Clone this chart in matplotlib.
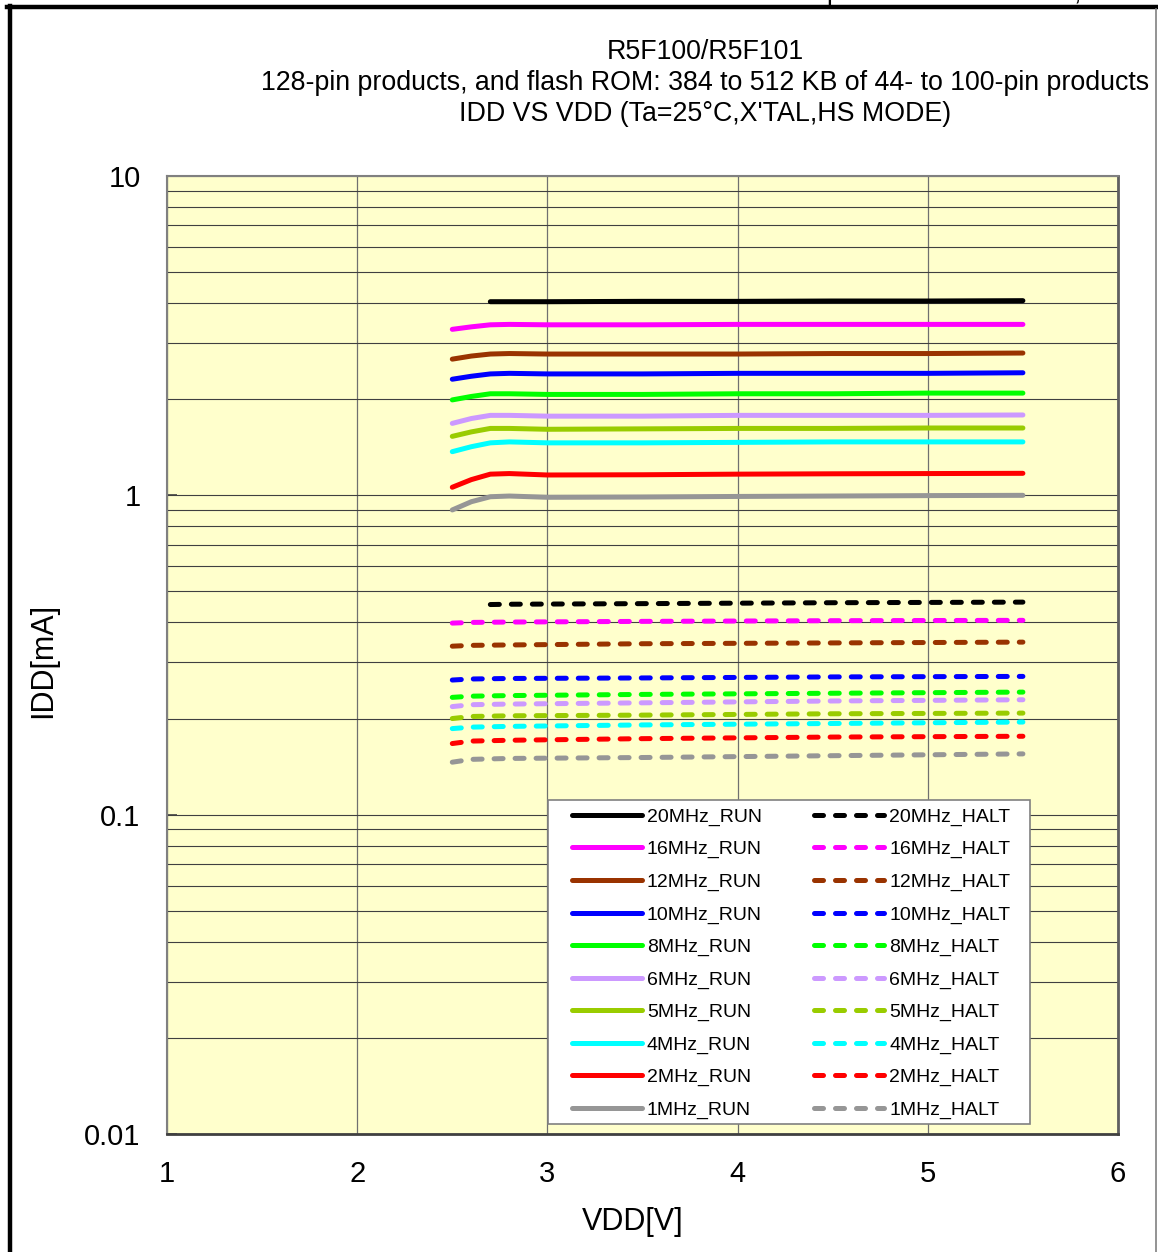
import numpy as np
import matplotlib
matplotlib.use('Agg')
import matplotlib.pyplot as plt
from matplotlib.lines import Line2D
from matplotlib.patches import Rectangle
from matplotlib.ticker import LogLocator, NullFormatter, FixedLocator, FixedFormatter

plt.rcParams['font.family'] = ['Liberation Sans', 'DejaVu Sans']

# Данні
vdd_run = [2.5, 2.6, 2.7, 2.8, 3.0, 3.5, 4.0, 4.5, 5.0, 5.5]
vdd_run_20 = [2.7, 2.8, 3.0, 3.5, 4.0, 4.5, 5.0, 5.5]
vdd_halt = [2.5, 2.6, 2.8, 3.5, 4.5, 5.5]
vdd_halt_20 = [2.7, 2.8, 3.5, 4.5, 5.5]

labels = ['20MHz', '16MHz', '12MHz', '10MHz', '8MHz', '6MHz', '5MHz', '4MHz', '2MHz', '1MHz']
colors = ['#000000', '#FF00FF', '#993300', '#0000FF', '#00FF00',
          '#CC99FF', '#99CC00', '#00FFFF', '#FF0000', '#969696']

run_20 = [4.04, 4.04, 4.04, 4.05, 4.05, 4.06, 4.06, 4.07]
run_16 = [3.31, 3.37, 3.42, 3.43, 3.42, 3.42, 3.43, 3.43, 3.43, 3.43]
run_12 = [2.67, 2.73, 2.77, 2.78, 2.77, 2.77, 2.77, 2.78, 2.78, 2.79]
run_10 = [2.31, 2.36, 2.40, 2.41, 2.40, 2.40, 2.41, 2.41, 2.41, 2.42]
run_8 = [1.99, 2.04, 2.08, 2.08, 2.07, 2.07, 2.08, 2.08, 2.09, 2.09]
run_6 = [1.68, 1.74, 1.78, 1.78, 1.77, 1.77, 1.78, 1.78, 1.78, 1.785]
run_5 = [1.53, 1.58, 1.62, 1.62, 1.61, 1.615, 1.62, 1.62, 1.625, 1.625]
run_4 = [1.37, 1.42, 1.46, 1.47, 1.46, 1.46, 1.465, 1.47, 1.47, 1.47]
run_2 = [1.06, 1.12, 1.165, 1.17, 1.158, 1.16, 1.165, 1.168, 1.17, 1.172]
run_1 = [0.90, 0.955, 0.99, 0.995, 0.986, 0.988, 0.992, 0.995, 0.998, 1.0]

halt_20 = [0.455, 0.456, 0.458, 0.461, 0.463]
halt_16 = [0.398, 0.400, 0.401, 0.403, 0.405, 0.406]
halt_12 = [0.337, 0.339, 0.340, 0.343, 0.345, 0.347]
halt_10 = [0.264, 0.266, 0.267, 0.268, 0.270, 0.271]
halt_8 = [0.233, 0.235, 0.236, 0.238, 0.240, 0.242]
halt_6 = [0.218, 0.221, 0.222, 0.224, 0.227, 0.229]
halt_5 = [0.200, 0.203, 0.204, 0.205, 0.207, 0.208]
halt_4 = [0.186, 0.188, 0.189, 0.191, 0.193, 0.195]
halt_2 = [0.167, 0.170, 0.171, 0.173, 0.175, 0.176]
halt_1 = [0.146, 0.149, 0.150, 0.151, 0.153, 0.155]

run_data = [run_20, run_16, run_12, run_10, run_8, run_6, run_5, run_4, run_2, run_1]
halt_data = [halt_20, halt_16, halt_12, halt_10, halt_8, halt_6, halt_5, halt_4, halt_2, halt_1]

fig = plt.figure(figsize=(11.58, 12.52), dpi=100)
ax = fig.add_axes([167 / 1158, 1 - 1134 / 1252, 951 / 1158, 958 / 1252])
ax.set_facecolor('#FFFFCC')
ax.set_yscale('log')
ax.set_xlim(1, 6)
ax.set_ylim(0.01, 10)

# Сітка
ax.yaxis.set_major_locator(FixedLocator([0.01, 0.1, 1, 10]))
ax.yaxis.set_major_formatter(FixedFormatter(['0.01', '0.1', '1', '10']))
ax.yaxis.set_minor_locator(LogLocator(base=10, subs=np.arange(2, 10)))
ax.yaxis.set_minor_formatter(NullFormatter())
ax.set_xticks([1, 2, 3, 4, 5, 6])
ax.grid(True, which='both', axis='y', color='#404040', linewidth=0.8)
ax.grid(True, which='major', axis='x', color='#707070', linewidth=0.9)
ax.tick_params(axis='x', length=0, pad=19, labelsize=21)
ax.tick_params(axis='y', which='major', direction='in', length=7, width=1.2,
               color='#404040', pad=19, labelsize=21)
ax.tick_params(axis='y', which='minor', length=0)
for s in ax.spines.values():
    s.set_color('#808080')
    s.set_linewidth(1.5)
ax.spines['bottom'].set_color('#404040')
ax.spines['right'].set_color('#606060')
ax.spines['bottom'].set_linewidth(2)
ax.spines['right'].set_linewidth(2)

lw = 3.6
run_handles = []
halt_handles = []
for i, (lab, col) in enumerate(zip(labels, colors)):
    xr = vdd_run_20 if i == 0 else vdd_run
    xh = vdd_halt_20 if i == 0 else vdd_halt
    h1, = ax.plot(xr, run_data[i], color=col, lw=lw, solid_capstyle='round',
                  label=lab + '_RUN', zorder=3)
    h2, = ax.plot(xh, halt_data[i], color=col, lw=lw, dashes=(1.8, 2.4),
                  dash_capstyle='round', label=lab + '_HALT', zorder=3)
    run_handles.append(h1)
    halt_handles.append(h2)

# Легенда
box = Rectangle(((548 - 167) / 951, (1134 - 1124) / 958), (1030 - 548) / 951, (1124 - 800) / 958,
                transform=ax.transAxes, facecolor='white', edgecolor='#808080',
                linewidth=1.2, zorder=4)
ax.add_patch(box)
leg = ax.legend(run_handles + halt_handles, [h.get_label() for h in run_handles + halt_handles],
                ncol=2, loc='upper left', bbox_to_anchor=((572 - 167) / 951, (1134 - 808) / 958),
                frameon=False, fontsize=14, borderpad=0, borderaxespad=0,
                handlelength=3.6, handletextpad=0.25, columnspacing=2.7, labelspacing=0.76)
leg.set_zorder(5)

# Заголовок і підписи осей
fig.text(705 / 1158, 1 - 52 / 1252, 'R5F100/R5F101', ha='center', va='center', fontsize=19.3)
fig.text(705 / 1158, 1 - 83 / 1252,
         '128-pin products, and flash ROM: 384 to 512 KB of 44- to 100-pin products',
         ha='center', va='center', fontsize=19.3)
fig.text(705 / 1158, 1 - 114 / 1252, "IDD VS VDD (Ta=25°C,X'TAL,HS MODE)",
         ha='center', va='center', fontsize=19.3)
fig.text(633 / 1158, 1 - 1222 / 1252, 'VDD[V]', ha='center', va='center', fontsize=22)
fig.text(43 / 1158, 1 - 660 / 1252, 'IDD[mA]', ha='center', va='center', fontsize=22, rotation=90)

# Обрізаний текст зверху (як на оригіналі)
fig.text(826 / 1158, 1.0, 'p', ha='left', va='baseline', fontsize=19)
fig.text(1074 / 1158, 1.0, ',', ha='left', va='baseline', fontsize=19)

# Рамка
fig.add_artist(Line2D([7 / 1158, 1], [1 - 7 / 1252] * 2, color='black', lw=3.2,
                      transform=fig.transFigure))
fig.add_artist(Line2D([10 / 1158] * 2, [0, 1 - 6 / 1252], color='black', lw=3.2,
                      transform=fig.transFigure))
fig.add_artist(Line2D([1156 / 1158] * 2, [0, 1 - 9 / 1252], color='#808080', lw=1.2,
                      transform=fig.transFigure))

fig.savefig('out.png', dpi=100)
